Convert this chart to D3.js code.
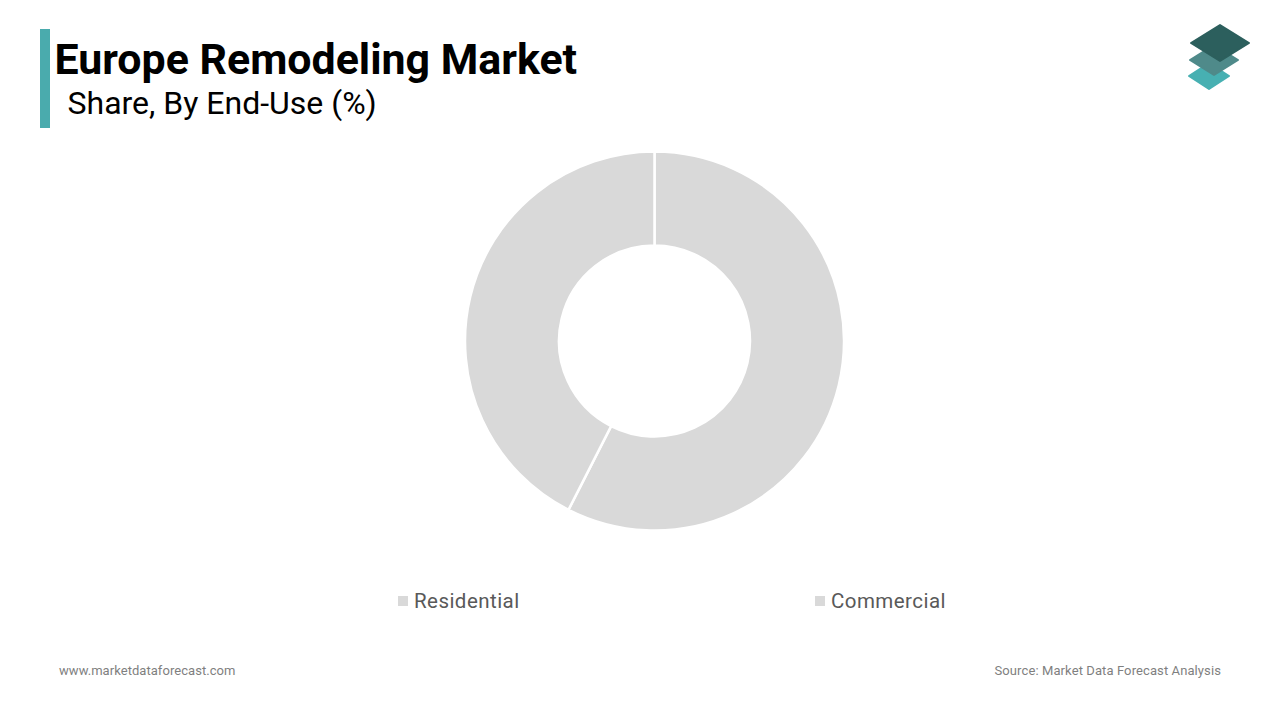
<!DOCTYPE html>
<html>
<head>
<meta charset="utf-8">
<script src="https://cdn.jsdelivr.net/npm/d3@7/dist/d3.min.js"></script>
<style>
  html, body { margin: 0; padding: 0; background: #fff; }
  svg { display: block; font-family: Roboto, sans-serif; }
</style>
</head>
<body>
<svg id="chart" width="1280" height="720"></svg>
<script>
const categories = ['Residential', 'Commercial'];
const shares = [57.5, 42.5];
const sliceColor = '#d9d9d9';

const svg = d3.select('#chart');

// title block
svg.append('rect')
    .attr('x', 40).attr('y', 29)
    .attr('width', 10).attr('height', 99)
    .attr('fill', '#4aabad');

svg.append('text')
    .attr('x', 54.5).attr('y', 74)
    .attr('font-size', 42.9).attr('font-weight', 700)
    .attr('fill', '#000')
    .text('Europe Remodeling Market');

svg.append('text')
    .attr('x', 67.5).attr('y', 114)
    .attr('font-size', 32)
    .attr('fill', '#000')
    .text('Share, By End-Use (%)');

// logo, back to front
const logoLayers = [
    { cx: 1209, cy: 76, w: 20, h: 13, fill: '#47b0b2' },
    { cx: 1214, cy: 60, w: 24, h: 15, fill: '#4f8a8a' },
    { cx: 1220, cy: 43, w: 29, h: 18, fill: '#2c5f5d' }
];
svg.append('g').selectAll('path')
    .data(logoLayers)
    .join('path')
    .attr('d', d => `M${d.cx},${d.cy - d.h}L${d.cx + d.w},${d.cy}L${d.cx},${d.cy + d.h}L${d.cx - d.w},${d.cy}Z`)
    .attr('fill', d => d.fill)
    .attr('stroke', d => d.fill)
    .attr('stroke-width', 2)
    .attr('stroke-linejoin', 'round');

// donut
const pie = d3.pie().sort(null);
const arc = d3.arc().innerRadius(95.5).outerRadius(189.5);

svg.append('g')
    .attr('transform', 'translate(654.5,341)')
    .selectAll('path')
    .data(pie(shares))
    .join('path')
    .attr('d', arc)
    .attr('fill', sliceColor)
    .attr('stroke', '#fff')
    .attr('stroke-width', 2.5);

// legend
const legendX = d3.scalePoint()
    .domain(categories)
    .range([398, 815]);

const legend = svg.append('g').selectAll('g')
    .data(categories)
    .join('g')
    .attr('transform', d => `translate(${legendX(d)},601)`);

legend.append('rect')
    .attr('y', -5)
    .attr('width', 10).attr('height', 10)
    .attr('fill', sliceColor);

legend.append('text')
    .attr('x', 16).attr('y', 7)
    .attr('font-size', 20.5)
    .attr('letter-spacing', 0.45)
    .attr('fill', '#595959')
    .text(d => d);

// footer
svg.append('text')
    .attr('x', 59).attr('y', 675)
    .attr('font-size', 13)
    .attr('letter-spacing', 0.05)
    .attr('fill', '#7f7f7f')
    .text('www.marketdataforecast.com');

svg.append('text')
    .attr('x', 1221).attr('y', 675)
    .attr('text-anchor', 'end')
    .attr('font-size', 13)
    .attr('letter-spacing', 0.1)
    .attr('fill', '#7f7f7f')
    .text('Source: Market Data Forecast Analysis');
</script>
</body>
</html>
